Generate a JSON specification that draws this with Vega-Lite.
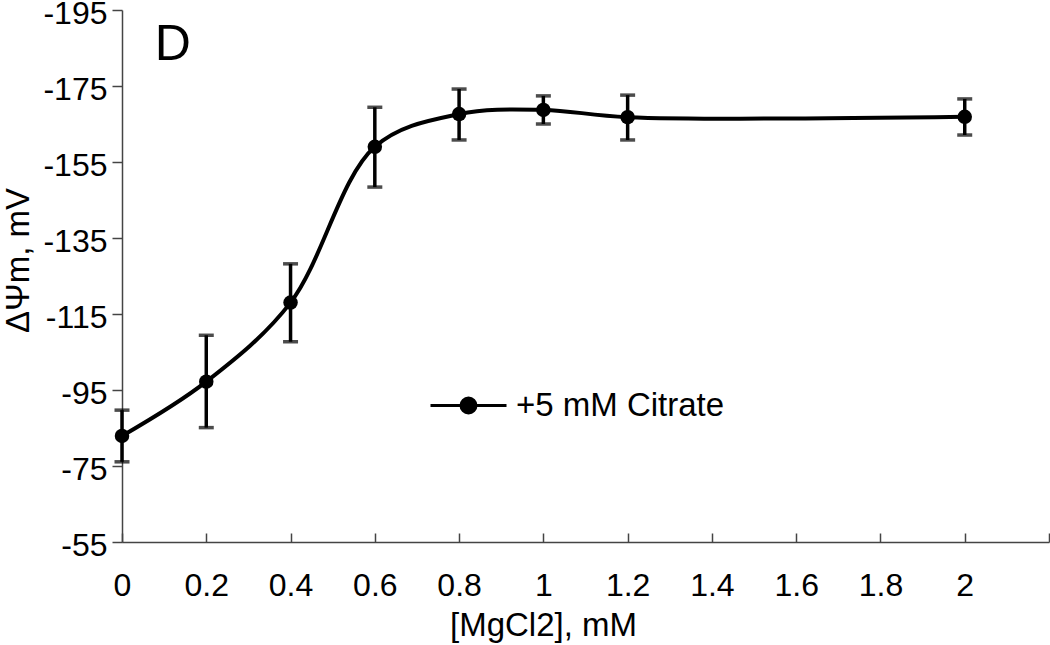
{
  "$schema": "https://vega.github.io/schema/vega-lite/v6.json",
  "width": 927,
  "height": 532,
  "autosize": {"type": "none"},
  "padding": {"left": 122, "top": 10, "right": 1, "bottom": 103},
  "background": "white",
  "config": {
    "view": {"stroke": null},
    "font": "Liberation Sans",
    "axis": {
      "grid": false,
      "domainColor": "#444444",
      "tickColor": "#444444",
      "domainWidth": 1.5,
      "tickWidth": 1.5,
      "labelColor": "black",
      "titleColor": "black",
      "labelFont": "Liberation Sans",
      "titleFont": "Liberation Sans",
      "labelFontSize": 32,
      "titleFontSize": 33,
      "titleFontWeight": "normal",
      "labelFlush": false
    }
  },
  "data": {
    "values": [
      {"mg": 0, "dpsi": -82.9, "lo": -76.1, "hi": -89.7, "series": "+5 mM Citrate"},
      {"mg": 0.2, "dpsi": -97.2, "lo": -85.1, "hi": -109.4, "series": "+5 mM Citrate"},
      {"mg": 0.4, "dpsi": -118.0, "lo": -107.7, "hi": -128.2, "series": "+5 mM Citrate"},
      {"mg": 0.6, "dpsi": -159.0, "lo": -148.4, "hi": -169.4, "series": "+5 mM Citrate"},
      {"mg": 0.8, "dpsi": -167.6, "lo": -160.8, "hi": -174.2, "series": "+5 mM Citrate"},
      {"mg": 1.0, "dpsi": -168.7, "lo": -165.0, "hi": -172.4, "series": "+5 mM Citrate"},
      {"mg": 1.2, "dpsi": -166.8, "lo": -160.8, "hi": -172.6, "series": "+5 mM Citrate"},
      {"mg": 2.0, "dpsi": -166.9, "lo": -162.1, "hi": -171.6, "series": "+5 mM Citrate"}
    ]
  },
  "layer": [
    {
      "mark": {"type": "line", "interpolate": "catmull-rom", "strokeWidth": 4, "color": "black"},
      "encoding": {
        "x": {
          "field": "mg",
          "type": "quantitative",
          "scale": {"domain": [0, 2.2], "nice": false, "zero": false},
          "axis": {
            "values": [0, 0.2, 0.4, 0.6, 0.8, 1, 1.2, 1.4, 1.6, 1.8, 2, 2.2],
            "format": "~g",
            "labelExpr": "datum.value > 2.1 ? '' : datum.label",
            "tickSize": -9,
            "labelPadding": 37,
            "title": "[MgCl2], mM",
            "titleX": 421,
            "titleY": 93,
            "titleBaseline": "alphabetic"
          }
        },
        "y": {
          "field": "dpsi",
          "type": "quantitative",
          "scale": {"domain": [-195, -55], "reverse": true, "nice": false, "zero": false},
          "axis": {
            "values": [-195, -175, -155, -135, -115, -95, -75, -55],
            "labelExpr": "replace(datum.label, '−', '-')",
            "tickSize": 10,
            "labelPadding": 5,
            "labelOffset": 3,
            "title": "ΔΨm, mV",
            "titleX": -94,
            "titleY": 250,
            "titleBaseline": "alphabetic"
          }
        }
      }
    },
    {
      "mark": {"type": "errorbar", "ticks": {"size": 15, "thickness": 3.5, "color": "black"}, "thickness": 3.5, "color": "black"},
      "encoding": {
        "x": {"field": "mg", "type": "quantitative", "title": "[MgCl2], mM"},
        "y": {"field": "lo", "type": "quantitative", "title": "ΔΨm, mV"},
        "y2": {"field": "hi"}
      }
    },
    {
      "mark": {"type": "point", "filled": true, "size": 210, "opacity": 1},
      "encoding": {
        "x": {"field": "mg", "type": "quantitative", "title": "[MgCl2], mM"},
        "y": {"field": "dpsi", "type": "quantitative", "title": "ΔΨm, mV"},
        "color": {
          "field": "series",
          "type": "nominal",
          "scale": {"range": ["black"]},
          "legend": {
            "orient": "none",
            "legendX": 307,
            "legendY": 356,
            "title": null,
            "padding": 0,
            "labelFontSize": 33,
            "labelFont": "Liberation Sans",
            "labelColor": "black",
            "labelOffset": 8,
            "labelLimit": 500,
            "symbolSize": 5776,
            "symbolType": "M-1,0L1,0M-0.197,0A0.197,0.197,0,1,1,0.197,0A0.197,0.197,0,1,1,-0.197,0Z",
            "symbolStrokeWidth": 3,
            "symbolFillColor": "black",
            "symbolStrokeColor": "black",
            "encode": {
              "symbols": {
                "update": {
                  "fill": {"value": "black"},
                  "stroke": {"value": "black"},
                  "strokeWidth": {"value": 3},
                  "opacity": {"value": 1}
                }
              }
            }
          }
        }
      }
    },
    {
      "data": {"values": [{"panel": "D"}]},
      "mark": {"type": "text", "fontSize": 50, "font": "Liberation Sans", "align": "left", "baseline": "alphabetic", "color": "black"},
      "encoding": {
        "x": {"datum": 0.078, "type": "quantitative"},
        "y": {"datum": -181.84, "type": "quantitative"},
        "text": {"field": "panel"}
      }
    }
  ]
}
